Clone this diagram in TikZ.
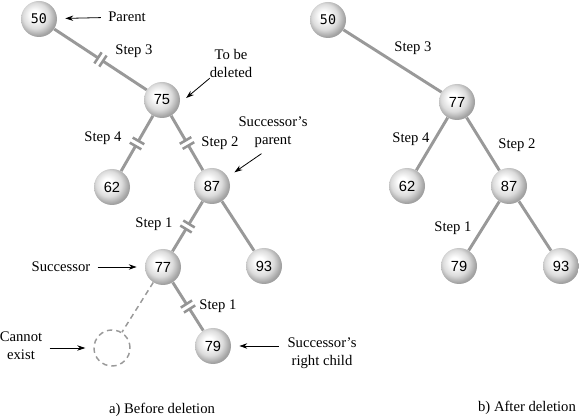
\documentclass[tikz,border=0pt]{standalone}
\usepackage{fontspec}
\setmainfont{Liberation Serif}
\newfontfamily\numfont{Liberation Sans}
\newfontfamily\keyfont{DejaVu Sans Mono}
\usetikzlibrary{arrows.meta,calc,decorations.markings}

\pgfdeclareradialshading{sphere}{\pgfpoint{-7bp}{7bp}}{%
	color(0bp)=(white); color(6bp)=(white); color(18bp)=(black!14);
	color(26bp)=(black!35); color(34bp)=(black!48); color(50bp)=(black!48)}

\begin{document}
\begin{tikzpicture}[
			x=0.75pt, y=-0.75pt,
			font=\fontsize{11}{13.5}\selectfont,
			>=Stealth,
			ball/.style={
				circle, shading=sphere,
				minimum size=27pt, inner sep=0pt,
				font=\numfont\fontsize{11}{13}\selectfont
			},
			rootball/.style={
				ball, font=\keyfont\fontsize{10}{12}\selectfont
			},
			gone/.style={
				circle, draw=black!40, line width=1.1pt,
				dash pattern=on 4pt off 3pt,
				minimum size=27pt, inner sep=0pt
			},
			link/.style={draw=black!40, line width=2.2pt},
			cut/.style={postaction={decorate, decoration={markings,
				mark=at position 0.5 with {
					\fill[white] (-2.2pt,-2pt) rectangle (2.2pt,2pt);
					\draw[black!42, line width=1.9pt]
						(-2.2pt,-5pt) -- (-2.2pt,5pt)
						(2.2pt,-5pt) -- (2.2pt,5pt);
				}}}},
			pointer/.style={-{Stealth[length=6pt,width=4pt]}, line width=0.6pt,
				shorten <=2pt, shorten >=6pt},
			note/.style={align=center}
			]
			
			\useasboundingbox (0,0) rectangle (579,417);
			
			%% ── a) Before deletion ──────────────────────────────────────────────
			\node[rootball] (a50) at (39, 19)  {50};
			\node[ball]     (a75) at (162,100) {75};
			\node[ball]     (a62) at (112,187) {62};
			\node[ball]     (a87) at (212,186) {87};
			\node[ball]     (a77) at (163,267) {77};
			\node[ball]     (a93) at (264,266) {93};
			\node[ball]     (a79) at (213,346) {79};
			\node[gone]     (agone) at (112,348) {};
			
			\foreach \a/\b in {a50/a75, a75/a62, a75/a87, a87/a77, a77/a79}
			\draw[link, cut] (\a) -- (\b);
			\draw[link] (a87) -- (a93);
			\draw[link, line width=1.1pt, dash pattern=on 4pt off 3pt] (a77) -- (agone);
			
			%% step labels
			\node (a3) at (134, 51) {Step 3};
			\node (a4) at (103,138) {Step 4};
			\node (a2) at (220,143) {Step 2};
			\node (a1) at (154,224) {Step 1};
			\node (a1b) at (218,306) {Step 1};
			
			%% pointers
			\node (lparent) at (127,17) {Parent};
			\draw[pointer] (lparent) -- (a50);
			
			\node[note] (ldel) at (231,63) {To be\\deleted};
			\draw[pointer] ([xshift=5pt,yshift=4pt]ldel.south west) -- (a75.-10);
			
			\node[note] (lsp) at (273,132) {Successor's\\parent};
			\draw[pointer] ([xshift=-7pt]lsp.south) -- (a87.30);
			
			\node (lsucc) at (61,267) {Successor};
			\draw[pointer] (lsucc) -- (a77);
			
			\node[note] (lnone) at (21,346) {Cannot\\exist};
			\draw[pointer] (lnone.east |- agone) -- (agone);
			
			\node[note] (lrc) at (322,353) {Successor's\\right child};
			\draw[pointer, shorten <=3pt] (lrc.west |- a79) -- (a79);
			
			\node (capa) at (162,410) {a) Before deletion};
			
			%% ── b) After deletion ───────────────────────────────────────────────
			\node[rootball] (b50) at (328, 20) {50};
			\node[ball]     (b77) at (457,102) {77};
			\node[ball]     (b62) at (407,186) {62};
			\node[ball]     (b87) at (509,186) {87};
			\node[ball]     (b79) at (459,266) {79};
			\node[ball]     (b93) at (561,266) {93};
			
			\foreach \a/\b in {b50/b77, b77/b62, b77/b87, b87/b79, b87/b93}
			\draw[link] (\a) -- (\b);
			
			\node (b3) at (413, 48) {Step 3};
			\node (b4) at (411,139) {Step 4};
			\node (b2) at (517,145) {Step 2};
			\node (b1) at (453,228) {Step 1};
			
			\node (capb) at (527,408) {b) After deletion};
			
		\end{tikzpicture}
\end{document}
